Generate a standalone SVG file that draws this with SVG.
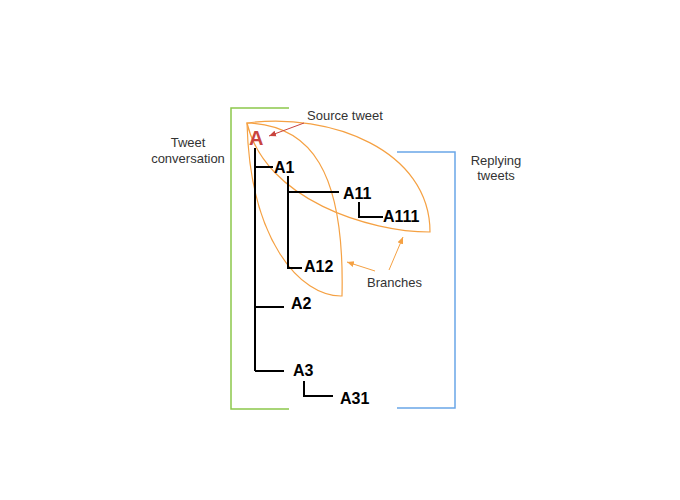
<svg xmlns="http://www.w3.org/2000/svg" width="680" height="500" viewBox="0 0 680 500">
<defs>
<style>
.lbl{font-family:"Liberation Sans",Arial,sans-serif;font-size:13px;fill:#333;}
.node{font-family:"Liberation Sans",Arial,sans-serif;font-size:16px;font-weight:bold;fill:#000;}
.tree{fill:none;stroke:#000;stroke-width:2;}
.leaf{fill:none;stroke:#f5a143;stroke-width:1.2;}
.brk{fill:none;stroke-width:1.5;}
</style>
<marker id="ar" markerWidth="8" markerHeight="8" refX="7" refY="4" orient="auto" markerUnits="userSpaceOnUse">
<path d="M0,1 L7,4 L0,7 z" fill="#c9443e"/>
</marker>
<marker id="ao" markerWidth="8" markerHeight="8" refX="7" refY="4" orient="auto" markerUnits="userSpaceOnUse">
<path d="M0,1 L7,4 L0,7 z" fill="#f5a143"/>
</marker>
</defs>
<rect width="680" height="500" fill="#fff"/>
<g id="brackets">
<path class="brk" stroke="#8cc84b" d="M289,108 H231 V409 H289"/>
<path class="brk" stroke="#6aa6e8" d="M397,152 H455 V408 H397"/>
</g>
<g id="labels">
<text class="lbl" x="188" y="147" text-anchor="middle">Tweet</text>
<text class="lbl" x="188" y="163" text-anchor="middle">conversation</text>
<text class="lbl" x="496" y="165" text-anchor="middle">Replying</text>
<text class="lbl" x="496" y="180" text-anchor="middle">tweets</text>
<text class="lbl" x="307" y="120">Source tweet</text>
<text class="lbl" x="367" y="287">Branches</text>
</g>
<g id="branches">
<path class="leaf" d="M247,123 C330,112 430,150 430,232 C370,232 265,200 247,123 Z"/>
<path class="leaf" d="M247,123 C310,125 345,170 342,296 C300,297 250,240 247,123 Z"/>
</g>
<g id="connectors">
<path class="tree" d="M255,148 V371"/>
<path class="tree" d="M255,167 H273"/>
<path class="tree" d="M288,176 V268 H302"/>
<path class="tree" d="M288,192 H339"/>
<path class="tree" d="M359,202 V217 H383"/>
<path class="tree" d="M255,307 H284"/>
<path class="tree" d="M255,371 H284"/>
<path class="tree" d="M304,381 V396 H333"/>
<line x1="304" y1="123" x2="269" y2="136" stroke="#c9443e" stroke-width="1" marker-end="url(#ar)"/>
<line x1="375" y1="271" x2="347" y2="262" stroke="#f5a143" stroke-width="1" marker-end="url(#ao)"/>
<line x1="389" y1="270" x2="403" y2="237" stroke="#f5a143" stroke-width="1" marker-end="url(#ao)"/>
</g>
<g id="node-A"><text x="249" y="145" style="font-family:'Liberation Sans',Arial,sans-serif;font-size:20px;font-weight:bold;fill:#c9443e">A</text></g>
<g id="node-A1"><text class="node" x="274" y="173">A1</text></g>
<g id="node-A11"><text class="node" x="343" y="199">A11</text></g>
<g id="node-A111"><text class="node" x="383" y="222">A111</text></g>
<g id="node-A12"><text class="node" x="304" y="272">A12</text></g>
<g id="node-A2"><text class="node" x="291" y="309">A2</text></g>
<g id="node-A3"><text class="node" x="293" y="376">A3</text></g>
<g id="node-A31"><text class="node" x="340" y="404">A31</text></g>
</svg>
